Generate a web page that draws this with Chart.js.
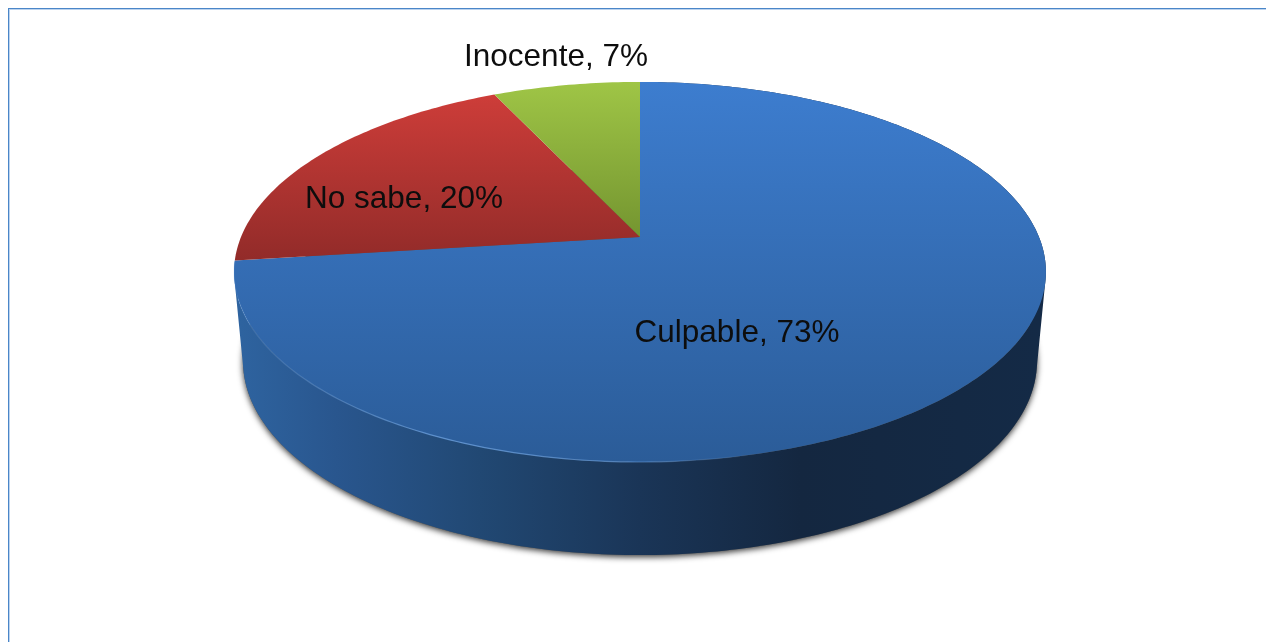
<!DOCTYPE html>
<html>
<head>
<meta charset="utf-8">
<title>Culpable</title>
<script src="https://cdn.jsdelivr.net/npm/chart.js@4"></script>
<style>
html, body { margin: 0; padding: 0; background: #fff; overflow: hidden; }
canvas { display: block; filter: blur(0.35px); }
</style>
</head>
<body>
<canvas id="myChart" width="1266" height="642"></canvas>
<script>
// data
const categories = ['Culpable', 'No sabe', 'Inocente'];
const values = [73, 20, 7];

const faceTop = ['#3d7dcf', '#cd3d39', '#9fc546'];
const faceBottom = ['#2b5c98', '#922b29', '#749530'];
const labelPos = [[737, 333], [404, 199], [556, 57]];

// projected planes of the disc (far side is smaller, so apex sits above the ellipse centre)
const topPlane = { cx: 640, cy: 237, a: 399, b: 183.6, k: 0.184 };
const lowPlane = { cx: 640, cy: 332, a: 392.5, b: 189.6, k: 0.15 };

// angle is the clockwise one from 12 o'clock
function project(p, angle) {
	const u = Math.sin(angle), v = Math.cos(angle);
	const w = 1 + p.k * v;
	return [p.cx + p.a * u / w, p.cy - p.b * v / w];
}

function tracePie(ctx, start, end) {
	ctx.beginPath();
	ctx.moveTo(topPlane.cx, topPlane.cy);
	const n = Math.ceil((end - start) * 60);
	for (let i = 0; i <= n; i++) {
		const pt = project(topPlane, start + (end - start) * i / n);
		ctx.lineTo(pt[0], pt[1]);
	}
	ctx.closePath();
}

function drawWall(ctx, start, end) {
	const n = Math.ceil((end - start) * 60);
	ctx.beginPath();
	for (let i = 0; i < n; i++) {
		const a0 = start + (end - start) * i / n;
		const a1 = start + (end - start) * (i + 1) / n;
		const quad = [project(topPlane, a0), project(topPlane, a1), project(lowPlane, a1), project(lowPlane, a0)];
		// all quads wound the same way, the strip folds over at the sides and would cancel out
		let area = 0;
		quad.forEach(function(pt, j) {
			const next = quad[(j + 1) % 4];
			area += pt[0] * next[1] - next[0] * pt[1];
		});
		if (area < 0) quad.reverse();
		ctx.moveTo(quad[0][0], quad[0][1]);
		ctx.lineTo(quad[1][0], quad[1][1]);
		ctx.lineTo(quad[2][0], quad[2][1]);
		ctx.lineTo(quad[3][0], quad[3][1]);
		ctx.closePath();
	}
	const g = ctx.createLinearGradient(240, 0, 1040, 0);
	g.addColorStop(0, '#2e639f');
	g.addColorStop(0.12, '#29568e');
	g.addColorStop(0.3, '#214873');
	g.addColorStop(0.5, '#1a3557');
	g.addColorStop(0.7, '#142740');
	g.addColorStop(1, '#142a46');
	ctx.fillStyle = g;
	ctx.fill();
}

function drawShadow(ctx) {
	const n = 240;
	ctx.save();
	ctx.shadowColor = 'rgba(0,0,0,0.8)';
	ctx.shadowBlur = 6;
	ctx.shadowOffsetX = 0;
	ctx.shadowOffsetY = 2;
	ctx.fillStyle = '#555';
	ctx.beginPath();
	for (let i = 0; i < n; i++) {
		const pt = project(lowPlane, Math.PI * 2 * i / n);
		if (i == 0) ctx.moveTo(pt[0], pt[1]); else ctx.lineTo(pt[0], pt[1]);
	}
	ctx.closePath();
	ctx.fill();
	ctx.restore();
}

// pale rim along the front left of the top face
function drawRim(ctx, start, end) {
	const from = Math.max(start, Math.PI * 0.85);
	const n = 120;
	const g = ctx.createLinearGradient(235, 0, 760, 0);
	g.addColorStop(0, 'rgba(110,165,230,0.15)');
	g.addColorStop(0.4, 'rgba(110,165,230,0.75)');
	g.addColorStop(0.75, 'rgba(110,165,230,0.55)');
	g.addColorStop(1, 'rgba(110,165,230,0)');
	ctx.strokeStyle = g;
	ctx.lineWidth = 1.2;
	ctx.beginPath();
	for (let i = 0; i <= n; i++) {
		const pt = project(topPlane, from + (end - from) * i / n);
		if (i == 0) ctx.moveTo(pt[0], pt[1]); else ctx.lineTo(pt[0], pt[1]);
	}
	ctx.stroke();
}

const pie3d = {
	id: 'pie3d',
	beforeDraw(chart) {
		const ctx = chart.ctx;
		ctx.save();
		ctx.fillStyle = '#fff';
		ctx.fillRect(0, 0, chart.width, chart.height);
		ctx.fillStyle = '#bcd3ee';
		ctx.fillRect(9, 9, chart.width - 9, 1);
		ctx.fillRect(9, 9, 1, chart.height - 9);
		ctx.fillStyle = '#4a86c8';
		ctx.fillRect(8, 8, chart.width - 8, 1);
		ctx.fillRect(8, 8, 1, chart.height - 8);
		ctx.restore();
	},
	beforeDatasetsDraw(chart) {
		const ctx = chart.ctx;
		const arcs = chart.getDatasetMeta(0).data;
		const offset = Math.PI / 2;
		ctx.save();
		drawShadow(ctx);
		drawWall(ctx, arcs[0].startAngle + offset, arcs[0].endAngle + offset);
		arcs.forEach(function(arc, i) {
			const start = arc.startAngle + offset, end = arc.endAngle + offset;
			const ys = [topPlane.cy];
			for (let a = start; a <= end; a += 0.02) ys.push(project(topPlane, a)[1]);
			const g = ctx.createLinearGradient(0, Math.min.apply(null, ys), 0, Math.max.apply(null, ys));
			g.addColorStop(0, faceTop[i]);
			g.addColorStop(1, faceBottom[i]);
			tracePie(ctx, start, end);
			ctx.fillStyle = g;
			ctx.fill();
		});
		drawRim(ctx, arcs[0].startAngle + offset, arcs[0].endAngle + offset);
		ctx.fillStyle = '#0d0d0d';
		ctx.font = '31.5px "Liberation Sans", Arial, sans-serif';
		ctx.textAlign = 'center';
		ctx.textBaseline = 'middle';
		arcs.forEach(function(arc, i) {
			ctx.fillText(categories[i] + ', ' + values[i] + '%', labelPos[i][0], labelPos[i][1]);
		});
		ctx.restore();
		return false;
	}
};

let myChart = new Chart(document.getElementById('myChart').getContext('2d'), {
	type: 'pie',
	data: {
		labels: categories,
		datasets: [{
			data: values,
			backgroundColor: faceTop,
			borderWidth: 0
		}]
	},
	options: {
		responsive: false,
		animation: false,
		plugins: {
			legend: { display: false },
			tooltip: { enabled: false }
		}
	},
	plugins: [pie3d]
});
</script>
</body>
</html>
